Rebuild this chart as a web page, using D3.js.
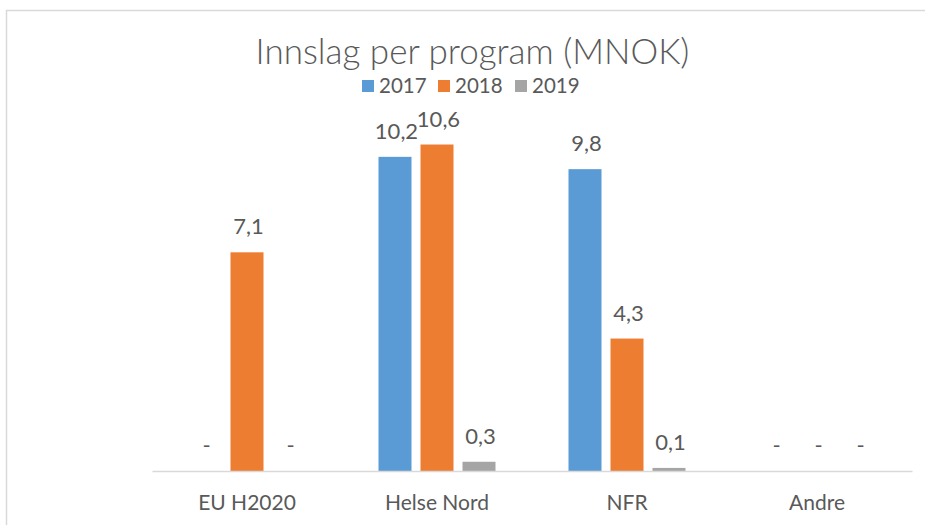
<!DOCTYPE html>
<html>
<head>
<meta charset="utf-8">
<script src="https://cdn.jsdelivr.net/npm/d3@7"></script>
<style>
  html, body { margin: 0; padding: 0; background: #fff; }
  svg { display: block; }
  text { font-family: Lato, "Open Sans", sans-serif; fill: #595959; }
</style>
</head>
<body>
<svg id="chart" width="925" height="525"></svg>
<script>
const title = "Innslag per program (MNOK)";
const categories = ["EU H2020", "Helse Nord", "NFR", "Andre"];
const years = ["2017", "2018", "2019"];
const values2017 = [0, 10.2, 9.8, 0];
const values2018 = [7.1, 10.6, 4.3, 0];
const values2019 = [0, 0.3, 0.1, 0];
const colors = ["#5B9BD5", "#ED7D31", "#A5A5A5"];

const seriesValues = [values2017, values2018, values2019];
const rows = [];
categories.forEach((c, i) => {
  years.forEach((yr, j) => rows.push({ cat: c, year: yr, value: seriesValues[j][i], color: colors[j] }));
});

const svg = d3.select("#chart");

// outer chart frame
svg.append("rect")
  .attr("x", 6.5).attr("y", 10.5)
  .attr("width", 960).attr("height", 560)
  .attr("fill", "none").attr("stroke", "#D9D9D9").attr("stroke-width", 1.5);

const x = d3.scaleBand().domain(categories).range([152, 912]).paddingInner(0).paddingOuter(0);
const xs = d3.scaleBand().domain(years).range([36.5, x.bandwidth() - 36.5]).paddingInner(9 / 42);
const y = d3.scaleLinear().domain([0, 12]).range([471, 101.4]);

// bars
svg.append("g").selectAll("rect").data(rows.filter(d => d.value > 0)).join("rect")
  .attr("x", d => x(d.cat) + xs(d.year))
  .attr("y", d => y(d.value))
  .attr("width", xs.bandwidth())
  .attr("height", d => y(0) - y(d.value))
  .attr("fill", d => d.color);

// category axis
const axis = svg.append("g").attr("transform", `translate(0,${y(0)})`)
  .call(d3.axisBottom(x).tickSize(0).tickPadding(0));
axis.select(".domain").attr("stroke", "#D9D9D9").attr("stroke-width", 1.5);
axis.selectAll(".tick text")
  .attr("dy", 0).attr("y", 39)
  .style("font-size", "21px").style("fill", "#595959")
  .style("font-family", "Lato, 'Open Sans', sans-serif");

// data labels
const fmt = v => v === 0 ? "-" : d3.format(".1f")(v).replace(".", ",");
svg.append("g").selectAll("text").data(rows).join("text")
  .attr("x", d => x(d.cat) + xs(d.year) + xs.bandwidth() / 2 + 1.5)
  .attr("y", d => y(d.value) - 18)
  .attr("text-anchor", "middle")
  .style("font-size", "22px")
  .text(d => fmt(d.value));

// title
svg.append("text")
  .attr("x", 472.5).attr("y", 64)
  .attr("text-anchor", "middle")
  .style("font-size", "35px")
  .style("font-weight", 300)
  .text(title);

// legend
const legendX = d3.scaleOrdinal().domain(years).range([362, 438, 515]);
const lg = svg.append("g").selectAll("g").data(years).join("g")
  .attr("transform", d => `translate(${legendX(d)},0)`);
lg.append("rect").attr("x", 0).attr("y", 80).attr("width", 12).attr("height", 12)
  .attr("fill", (d, i) => colors[i]);
lg.append("text").attr("x", 17).attr("y", 93)
  .style("font-size", "20.5px")
  .text(d => d);
</script>
</body>
</html>
